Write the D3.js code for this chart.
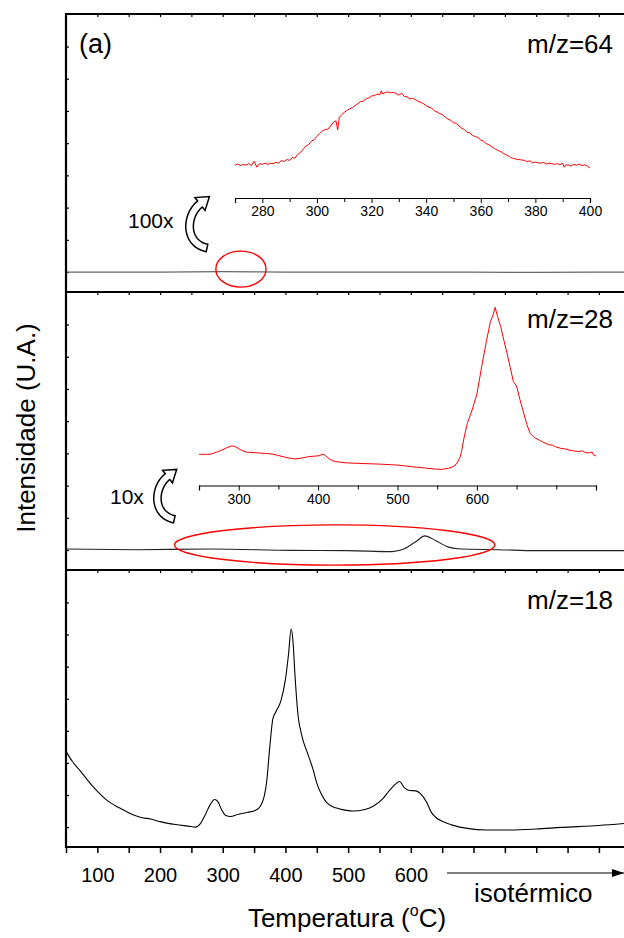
<!DOCTYPE html>
<html>
<head>
<meta charset="utf-8">
<script src="https://cdn.jsdelivr.net/npm/d3@7"></script>
<style>
  html, body { margin: 0; padding: 0; background: #fff; }
  svg { display: block; }
</style>
</head>
<body>
<svg id="chart" width="624" height="938"></svg>
<script>
// ---------- data ----------
// m/z = 18 (water), temperature (°C) vs intensity (a.u.)
const temps18 = [50, 60, 72, 85, 95, 115, 135, 150, 170, 185, 200, 225, 245, 257, 264, 272, 280, 287, 292, 298,
  305, 312, 325, 340, 352, 360, 366, 370, 375, 380, 385, 393, 400, 405, 409, 412, 415, 420, 426, 436,
  444, 450, 458, 466, 480, 495, 508, 525, 540, 555, 565, 575, 582, 590, 598, 608, 615, 625, 633, 640,
  650, 665, 690, 720, 760, 800, 840, 900, 940];
const m18 = [2.36, 2.05, 1.77, 1.45, 1.22, 0.84, 0.60, 0.45, 0.30, 0.25, 0.17, 0.08, 0.03, 0.00, 0.10, 0.38, 0.70, 0.86, 0.80, 0.55,
  0.36, 0.33, 0.40, 0.46, 0.52, 0.65, 0.95, 1.40, 2.49, 3.38, 3.60, 3.95, 4.60, 5.40, 6.17, 5.80, 4.80, 3.50, 2.86, 2.26,
  1.80, 1.37, 1.00, 0.76, 0.60, 0.53, 0.50, 0.54, 0.65, 0.88, 1.12, 1.33, 1.42, 1.22, 1.14, 1.13, 1.05, 0.78, 0.45, 0.30,
  0.18, 0.07, -0.04, -0.09, -0.09, -0.06, -0.01, 0.05, 0.11];

// m/z = 28 (CO), full scale
const temps28 = [50, 160, 280, 410, 500, 570, 590, 610, 622, 640, 660, 680, 740, 800, 940];
const m28 = [0.03, 0.01, 0.03, -0.01, -0.02, -0.05, 0.04, 0.29, 0.44, 0.29, 0.09, 0.03, 0.01, -0.02, -0.02];

// m/z = 64 (SO2), full scale
const temps64 = [50, 200, 300, 400, 600, 800, 940];
const m64 = [0.00, 0.00, 0.01, 0.00, 0.00, -0.01, 0.00];

// m/z = 28 magnified 10x (250-750 °C)
const inset28Temps = [250, 258, 265, 272, 279, 285, 291, 295, 299, 304, 310, 321, 332, 342, 350, 359, 366, 371, 380, 388,
  395, 401, 406, 409, 412, 418, 425, 434, 450, 476, 500, 518, 535, 548, 556, 564, 570, 575, 579, 581,
  584, 588, 594, 600, 606, 612, 617, 620, 623, 626, 630, 634, 638, 642, 646, 650, 654, 659, 663, 667,
  672, 682, 690, 695, 699, 705, 712, 716, 720, 728, 733, 737, 742, 745, 747, 750];
const inset28 = [9.5, 9.5, 9.6, 10.8, 12.1, 13.5, 14.6, 14.3, 13.3, 11.8, 10.8, 10.5, 10.1, 9.7, 8.8, 7.7, 7.0, 6.7, 7.3, 8.1,
  8.4, 8.6, 9.6, 8.9, 7.5, 5.6, 4.9, 4.4, 4.0, 3.6, 3.0, 2.0, 1.2, 0.5, 0.4, 1.0, 2.0, 4.1, 8.0, 12.1,
  20.0, 28.3, 36.4, 46.0, 62.6, 78.0, 89.9, 93.5, 98.6, 93.0, 86.8, 78.5, 70.7, 62.0, 53.5, 50.9, 43.0, 34.4, 27.5, 22.2,
  19.8, 17.2, 15.4, 15.0, 14.1, 13.2, 12.7, 12.1, 11.7, 11.2, 11.6, 10.5, 10.4, 10.9, 9.1, 8.5];

// m/z = 64 magnified 100x (270-400 °C)
const inset64Temps = [270, 271, 272, 273, 274, 275, 276, 277, 278, 279, 280, 281, 282, 283, 284, 285, 286, 287, 288, 289,
  290, 291, 292, 293, 294, 295, 296, 297, 298, 299, 300, 301, 302, 303, 304, 305, 306, 307, 307.6, 308.2,
  309, 310, 311, 312, 313, 314, 315, 316, 317, 318, 319, 320, 321, 322, 323, 323.6, 324, 325, 326, 327,
  328, 329, 330, 331, 332, 333, 334, 335, 336, 337, 338, 339, 340, 341, 342, 343, 344, 345, 346, 347,
  348, 349, 350, 351, 352, 353, 354, 355, 356, 357, 358, 359, 360, 361, 362, 363, 364, 365, 366, 367,
  368, 369, 370, 371, 372, 373, 374, 375, 376, 377, 378, 379, 380, 381, 382, 383, 384, 385, 386, 387,
  388, 389, 390, 390.5, 391, 392, 393, 394, 395, 396, 397, 398, 399, 400];
const inset64 = [6.0, 7.5, 5.5, 7.0, 6.0, 8.0, 5.5, 11.0, 3.5, 8.0, 7.0, 8.5, 7.0, 8.5, 8.0, 9.5, 8.5, 12.0, 10.5, 13.0,
  12.0, 15.5, 15.0, 19.5, 22.0, 26.0, 30.0, 32.0, 36.0, 38.0, 42.0, 45.5, 49.0, 50.5, 51.0, 55.0, 59.5, 61.5, 50.0, 66.0,
  69.0, 72.0, 74.5, 76.5, 78.0, 80.5, 83.0, 85.5, 86.0, 89.0, 90.0, 92.5, 93.0, 95.0, 94.0, 99.0, 95.0, 97.0, 97.5, 96.5,
  97.0, 95.5, 93.5, 96.0, 92.0, 91.5, 89.0, 89.5, 88.0, 86.0, 84.5, 83.0, 80.5, 78.5, 77.5, 74.0, 72.5, 70.5, 69.5, 66.0,
  63.5, 62.0, 59.0, 58.5, 55.0, 52.5, 50.5, 47.0, 46.5, 43.0, 42.0, 40.5, 37.5, 36.0, 33.0, 31.5, 29.0, 27.0, 25.0, 23.5,
  21.5, 19.5, 18.0, 15.5, 14.5, 13.5, 13.0, 12.5, 12.0, 10.5, 11.5, 9.0, 10.0, 9.0, 8.5, 9.5, 7.5, 8.5, 8.0, 7.0,
  8.0, 6.5, 8.5, 3.5, 6.0, 6.5, 5.0, 7.0, 6.0, 7.5, 5.5, 6.5, 5.0, 2.5];

// axis ticks and labels
const mainTicks = d3.range(50, 941, 50);
const mainTickLabels = [100, 200, 300, 400, 500, 600];
const leftTicks = [0, 1, 2, 3, 4, 5, 6, 7];
const inset64Ticks = d3.range(270, 401, 10);
const inset64Labels = [280, 300, 320, 340, 360, 380, 400];
const inset28Ticks = d3.range(250, 751, 50);
const inset28Labels = [300, 400, 500, 600];
const panelLabels = ["m/z=64", "m/z=28", "m/z=18"];
const magnifications = ["100x", "10x"];

// highlighted regions (temperature range, intensity range) on the full-scale traces
const zoomRegion64 = { t0: 289, t1: 369, v0: -0.47, v1: 0.65 };
const zoomRegion28 = { t0: 223, t1: 734, v0: -0.47, v1: 0.78 };

// ---------- layout ----------
const FONT = '"Liberation Sans", Arial, Helvetica, sans-serif';
const svg = d3.select("#chart").attr("font-family", FONT);
const frameL = 66, frameR = 627;
const panels = [{ top: 14, bottom: 292 }, { top: 292, bottom: 570 }, { top: 570, bottom: 847 }];

const x = d3.scaleLinear().domain([50, 940]).range([66, 624]);
const ys = panels.map(p => d3.scaleLinear().domain([-0.62, 8.01]).range([p.bottom, p.top]));

const zip = (a, b) => a.map((d, i) => [d, b[i]]);

// ---------- axes of the stacked panels ----------
panels.forEach((p, i) => {
  // inward ticks along the top edge
  const gt = svg.append("g").attr("transform", `translate(0,${p.top})`)
    .call(d3.axisBottom(x).tickValues(mainTicks.filter(t => t > 50)).tickSize(3).tickFormat(""));
  gt.select(".domain").remove();
  gt.selectAll("line").attr("stroke", "#000").attr("stroke-width", 1.2);

  // inward ticks along the left edge
  const gl = svg.append("g").attr("transform", `translate(${frameL},0)`)
    .call(d3.axisRight(ys[i]).tickValues(leftTicks).tickSize(3).tickFormat(""));
  gl.select(".domain").remove();
  gl.selectAll("line").attr("stroke", "#000").attr("stroke-width", 1.2);
});

const gx = svg.append("g").attr("transform", `translate(0,${panels[2].bottom})`)
  .call(d3.axisBottom(x).tickValues(mainTicks).tickSize(6).tickPadding(15)
    .tickFormat(d => mainTickLabels.includes(d) ? d : ""));
gx.select(".domain").remove();
gx.attr("font-family", FONT).attr("font-size", 20);
gx.selectAll("line").attr("stroke", "#000").attr("stroke-width", 1.5);
gx.selectAll("text").attr("fill", "#000");

// ---------- full-scale traces ----------
const traceLine = (y, curve) => d3.line().x(d => x(d[0])).y(d => y(d[1])).curve(curve);

svg.append("path").datum(zip(temps64, m64))
  .attr("d", traceLine(ys[0], d3.curveMonotoneX))
  .attr("fill", "none").attr("stroke", "#666").attr("stroke-width", 1.3);

svg.append("path").datum(zip(temps28, m28))
  .attr("d", traceLine(ys[1], d3.curveMonotoneX))
  .attr("fill", "none").attr("stroke", "#222").attr("stroke-width", 1.1);

svg.append("path").datum(zip(temps18, m18))
  .attr("d", traceLine(ys[2], d3.curveMonotoneX))
  .attr("fill", "none").attr("stroke", "#000").attr("stroke-width", 1.1);

// ---------- frame ----------
const frame = svg.append("g").attr("stroke", "#000").attr("stroke-width", 2.2);
frame.append("line").attr("x1", frameL).attr("x2", frameL).attr("y1", panels[0].top - 1).attr("y2", panels[2].bottom + 1);
[panels[0].top, panels[1].top, panels[2].top, panels[2].bottom].forEach(yy => {
  frame.append("line").attr("x1", frameL).attr("x2", frameR).attr("y1", yy).attr("y2", yy);
});

// ---------- highlighted regions ----------
function regionEllipse(r, y) {
  const cx = (x(r.t0) + x(r.t1)) / 2, rx = (x(r.t1) - x(r.t0)) / 2;
  const cy = (y(r.v0) + y(r.v1)) / 2, ry = Math.abs(y(r.v0) - y(r.v1)) / 2;
  svg.append("ellipse").attr("cx", cx).attr("cy", cy).attr("rx", rx).attr("ry", ry)
    .attr("fill", "none").attr("stroke", "#ff0000").attr("stroke-width", 1.4);
}
regionEllipse(zoomRegion64, ys[0]);
regionEllipse(zoomRegion28, ys[1]);

// ---------- magnified insets ----------
function inset(cfg) {
  const xi = d3.scaleLinear().domain(cfg.domain).range(cfg.range);
  const yi = d3.scaleLinear().domain([0, 100]).range(cfg.yRange);
  svg.append("path").datum(zip(cfg.temps, cfg.values))
    .attr("d", d3.line().x(d => xi(d[0])).y(d => yi(d[1])))
    .attr("fill", "none").attr("stroke", "#ff0000").attr("stroke-width", 1)
    .attr("stroke-linejoin", "round");
  const g = svg.append("g").attr("transform", `translate(0,${cfg.axisY})`)
    .call(d3.axisBottom(xi).tickValues(cfg.ticks).tickSizeOuter(0).tickSize(5).tickPadding(cfg.pad)
      .tickFormat(d => cfg.labels.includes(d) ? d : ""));
  g.attr("font-family", FONT).attr("font-size", 14);
  g.select(".domain").attr("stroke", "#000").attr("stroke-width", 1.2);
  g.selectAll(".tick line").attr("stroke", "#000").attr("stroke-width", 1)
    .attr("y2", d => cfg.labels.includes(d) ? 5 : 4);
  g.selectAll("text").attr("fill", "#000");
}
inset({ temps: inset64Temps, values: inset64, domain: [270, 400], range: [235, 590],
  yRange: [170, 90], axisY: 198, ticks: inset64Ticks, labels: inset64Labels, pad: 3 });
inset({ temps: inset28Temps, values: inset28, domain: [250, 750], range: [199, 596],
  yRange: [470, 305], axisY: 485.5, ticks: inset28Ticks, labels: inset28Labels, pad: 4 });

// ---------- curved "magnify" arrows ----------
function curvedArrow(ox, oy, s) {
  const P0 = [22, 58], P1 = [-1, 53], P2 = [1, 25], P3 = [15, 14];
  const bez = t => { const u = 1 - t; return [0, 1].map(k => u*u*u*P0[k] + 3*u*u*t*P1[k] + 3*u*t*t*P2[k] + t*t*t*P3[k]); };
  const der = t => { const u = 1 - t; return [0, 1].map(k => 3*u*u*(P1[k]-P0[k]) + 6*u*t*(P2[k]-P1[k]) + 3*t*t*(P3[k]-P2[k])); };
  const hw = 3.8, hh = 8.2, hl = 12;
  const L = [], R = [];
  for (let i = 0; i <= 30; i++) {
    const t = i / 30, p = bez(t), d = der(t), len = Math.hypot(d[0], d[1]);
    const n = [-d[1] / len, d[0] / len];
    L.push([p[0] + n[0]*hw, p[1] + n[1]*hw]);
    R.push([p[0] - n[0]*hw, p[1] - n[1]*hw]);
  }
  const d3v = der(1), l3 = Math.hypot(d3v[0], d3v[1]);
  const tg = [d3v[0]/l3, d3v[1]/l3], n3 = [-tg[1], tg[0]];
  const tip = [P3[0] + tg[0]*hl, P3[1] + tg[1]*hl];
  const pts = [...L, [P3[0] + n3[0]*hh, P3[1] + n3[1]*hh], tip, [P3[0] - n3[0]*hh, P3[1] - n3[1]*hh], ...R.reverse()];
  svg.append("path")
    .attr("transform", `translate(${ox},${oy}) scale(${s})`)
    .attr("d", "M" + pts.map(p => p[0].toFixed(2) + "," + p[1].toFixed(2)).join("L") + "Z")
    .attr("fill", "#fff").attr("stroke", "#000").attr("stroke-width", 1.5 / s)
    .attr("stroke-linejoin", "miter");
}
curvedArrow(185, 190, 1.0);
curvedArrow(153, 463, 0.97);

// ---------- text ----------
svg.append("text").attr("x", 128).attr("y", 228).attr("font-size", 21).text(magnifications[0]);
svg.append("text").attr("x", 110).attr("y", 504).attr("font-size", 21).text(magnifications[1]);

svg.append("text").attr("x", 79).attr("y", 53).attr("font-size", 27).text("(a)");

const labelY = [53, 328, 609];
panelLabels.forEach((t, i) => {
  svg.append("text").attr("x", 613).attr("y", labelY[i]).attr("text-anchor", "end")
    .attr("font-size", 26).text(t);
});

svg.append("text").attr("transform", "translate(35,428) rotate(-90)")
  .attr("text-anchor", "middle").attr("font-size", 26).text("Intensidade (U.A.)");

const xt = svg.append("text").attr("x", 347).attr("y", 927).attr("text-anchor", "middle").attr("font-size", 26);
xt.append("tspan").text("Temperatura (");
xt.append("tspan").attr("font-size", 16).attr("dy", -11).text("o");
xt.append("tspan").attr("dy", 11).text("C)");

// isothermal segment marker
svg.append("defs").append("marker").attr("id", "head")
  .attr("viewBox", "0 0 12 8").attr("refX", 12).attr("refY", 4)
  .attr("markerWidth", 12).attr("markerHeight", 8).attr("markerUnits", "userSpaceOnUse")
  .attr("orient", "auto")
  .append("path").attr("d", "M0,0L12,4L0,8Z").attr("fill", "#000");
svg.append("line").attr("x1", 447).attr("x2", 624).attr("y1", 873).attr("y2", 873)
  .attr("stroke", "#000").attr("stroke-width", 1.2).attr("marker-end", "url(#head)");
svg.append("text").attr("x", 474).attr("y", 902).attr("font-size", 26).text("isotérmico");
</script>
</body>
</html>
